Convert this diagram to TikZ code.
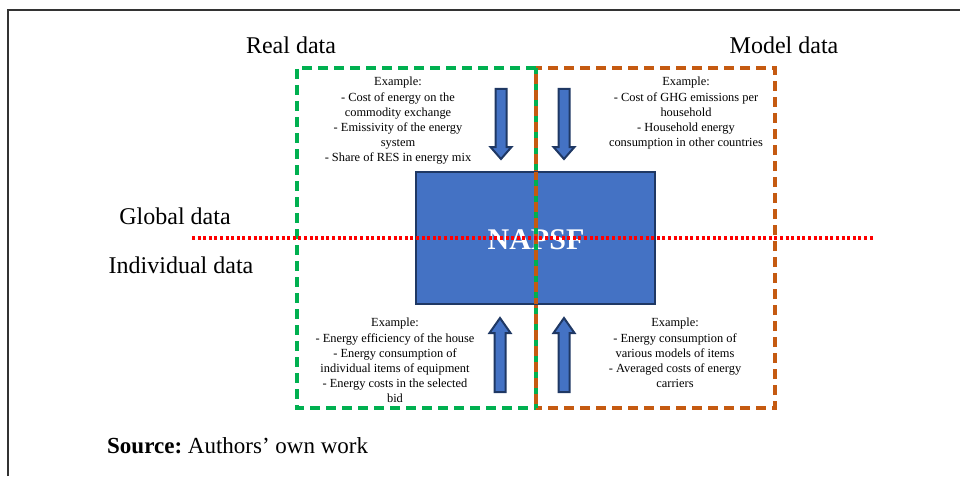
\documentclass[tikz,border=0pt]{standalone}
\usepackage{fontspec}
\setmainfont{Liberation Serif}
\definecolor{boxgreen}{HTML}{00B050}
\definecolor{boxorange}{HTML}{C55A11}
\definecolor{napblue}{HTML}{4472C4}
\definecolor{napnavy}{HTML}{1F3864}
\definecolor{framegray}{HTML}{333333}
\begin{document}
\begin{tikzpicture}[x=1pt,y=-1pt,
  biglabel/.style={inner sep=0pt, font=\fontsize{24}{28}\selectfont},
  smalltext/.style={inner sep=0pt, align=center, font=\fontsize{12.4}{15.2}\selectfont},
  dashbox/.style={line width=3.2pt, dash pattern=on 10pt off 6pt},
  blockarrow/.style={fill=napblue, draw=napnavy, line width=2pt, line join=miter},
  downarrow/.pic={\draw[blockarrow] (-5.5,0) -- (5.5,0) -- (5.5,58) -- (10.5,58) -- (0,70) -- (-10.5,58) -- (-5.5,58) -- cycle;},
  uparrow/.pic={\draw[blockarrow] (-5.5,0) -- (5.5,0) -- (5.5,-59) -- (10.5,-59) -- (0,-74) -- (-10.5,-59) -- (-5.5,-59) -- cycle;}
]
\useasboundingbox (0,0) rectangle (960,476);
% outer frame
\draw[framegray, line width=2.6pt] (8,476) -- (8,10) -- (960,10);

% quadrant boxes
\draw[boxorange, dashbox] (536,68) rectangle (775,408);
\draw[boxgreen, dashbox] (536,68) -- (297,68) -- (297,408) -- (536,408);
\draw[boxorange, line width=3.2pt] (536,68) -- (536,408);
\draw[boxgreen, line width=3.2pt, dash pattern=on 6pt off 10pt] (536,68) -- (536,408);

% central box
\node[draw=napnavy, fill=napblue, line width=2pt, minimum width=239pt, minimum height=132pt, inner sep=0pt] (napsf) at (535.5,238) {};
\node[text=white, inner sep=0pt, font=\fontsize{30}{34}\selectfont\bfseries] (napsflabel) at (536,240) {NAPSF};

% redraw middle divider over the box
\draw[boxorange, line width=3.2pt] (536,172) -- (536,304);
\draw[boxgreen, line width=3.2pt, dash pattern=on 6pt off 10pt, dash phase=8pt] (536,172) -- (536,304);

% red dotted line
\draw[red, line width=3.4pt, dash pattern=on 3pt off 2.6pt] (192,238) -- (875,238);

% labels
\node[biglabel] (real) at (291,45) {Real data};
\node[biglabel] (model) at (784,45) {Model data};
\node[biglabel] (global) at (175,216) {Global data};
\node[biglabel] (indiv) at (181,265) {Individual data};

% arrows
\pic at (501,89) {downarrow};
\pic at (564,89) {downarrow};
\pic at (500,392) {uparrow};
\pic at (564,392) {uparrow};

% texts
\node[smalltext, anchor=north] (tl) at (398,77) {Example:\\- Cost of energy on the\\commodity exchange\\- Emissivity of the energy\\system\\- Share of RES in energy mix};
\node[smalltext, anchor=north] (tr) at (686,77) {Example:\\- Cost of GHG emissions per\\household\\- Household energy\\consumption in other countries};
\node[smalltext, anchor=north] (bl) at (395,318) {Example:\\- Energy efficiency of the house\\- Energy consumption of\\individual items of equipment\\- Energy costs in the selected\\bid};
\node[smalltext, anchor=north] (br) at (675,318) {Example:\\- Energy consumption of\\various models of items\\- Averaged costs of energy\\carriers};

% source
\node[anchor=west, inner sep=0pt, font=\fontsize{23}{28}\selectfont] (source) at (107,446) {\textbf{Source:}~Authors’ own work};
\end{tikzpicture}
\end{document}
